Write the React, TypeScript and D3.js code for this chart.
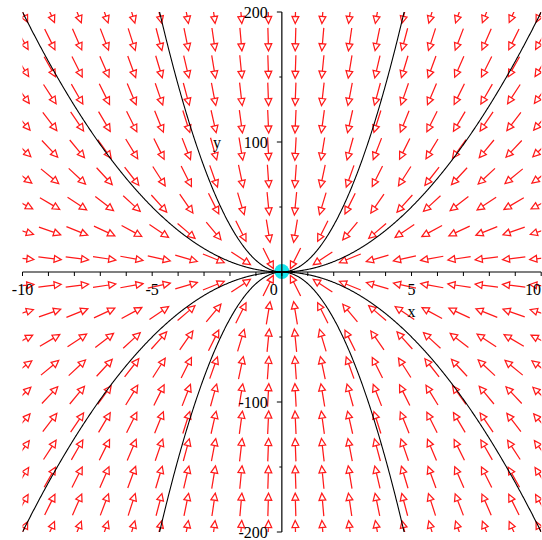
import React from "react";
import * as d3 from "d3";

// Field: dx/dt = -x, dy/dt = -2y ; solution curves y = C x^2
const xDomain = [-10, 10];
const yDomain = [-200, 200];
const gridCount = 20;
const curveCoefs = [2, 9, -2, -9];
const xTickValues = d3.range(-10, 11, 1);
const xTickLabels = [-10, -5, 0, 5, 10];
const yMajorTicks = [-200, -100, 100, 200];
const yMinorTicks = [-150, -50, 50, 150];
const equilibrium = [0, 0];

const W = 542;
const H = 540;

export default function App() {
  const x = d3.scaleLinear().domain(xDomain).range([22.5, 541.2]);
  const y = d3.scaleLinear().domain(yDomain).range([532, 12]);

  const gx = d3.range(gridCount).map((i) => xDomain[0] + (i * (xDomain[1] - xDomain[0])) / (gridCount - 1));
  const gy = d3.range(gridCount).map((i) => yDomain[0] + (i * (yDomain[1] - yDomain[0])) / (gridCount - 1));

  const L = 23;
  const headLen = 7;
  const headHalf = 3.4;
  const arrows: string[] = [];
  gx.forEach((xv) => {
    gy.forEach((yv) => {
      const dx = -xv;
      const dy = -2 * yv;
      const px = x(xv + dx * 1e-3) - x(xv);
      const py = y(yv + dy * 1e-3) - y(yv);
      const m = Math.hypot(px, py);
      if (m === 0) return;
      const ux = px / m;
      const uy = py / m;
      const cx = x(xv);
      const cy = y(yv);
      const tx = cx - (ux * L) / 2;
      const ty = cy - (uy * L) / 2;
      const hx = cx + (ux * L) / 2;
      const hy = cy + (uy * L) / 2;
      const bx = hx - ux * headLen;
      const by = hy - uy * headLen;
      const nx = -uy;
      const ny = ux;
      arrows.push(
        `M${tx},${ty}L${bx},${by}` +
          `M${hx},${hy}L${bx + nx * headHalf},${by + ny * headHalf}L${bx - nx * headHalf},${by - ny * headHalf}Z`
      );
    });
  });

  const xs = d3.range(-10, 10.0001, 0.02);
  const line = d3
    .line<number[]>()
    .x((d) => x(d[0]))
    .y((d) => y(d[1]));

  const x0 = x(0);
  const y0 = y(0);
  const font = "'Liberation Serif', 'Times New Roman', serif";

  return (
    <svg width={W} height={H} style={{ position: "absolute", left: 0, top: 0, background: "#fff" }}>
      <defs>
        <clipPath id="plotClip">
          <rect x={x(-10)} y={y(200)} width={x(10) - x(-10)} height={y(-200) - y(200)} />
        </clipPath>
      </defs>
      <circle cx={x(equilibrium[0])} cy={y(equilibrium[1]) - 0.5} r={7.5} fill="#18e4ec" />
      <g clipPath="url(#plotClip)">
        {arrows.map((d, i) => (
          <path key={i} d={d} fill="none" stroke="#ff1a1a" strokeWidth={1.25} />
        ))}
      </g>
      {/* axes */}
      <line x1={x(-10)} x2={x(10)} y1={y0} y2={y0} stroke="#000" strokeWidth={1.2} />
      <line x1={x0} x2={x0} y1={y(200)} y2={y(-200)} stroke="#000" strokeWidth={1.2} />
      {xTickValues.map((t) => (
        <line key={"xt" + t} x1={x(t)} x2={x(t)} y1={y0} y2={y0 + 4} stroke="#000" strokeWidth={1} />
      ))}
      {yMajorTicks.map((t) => (
        <line key={"yt" + t} x1={x0 - 5} x2={x0} y1={y(t)} y2={y(t)} stroke="#000" strokeWidth={1} />
      ))}
      {yMinorTicks.map((t) => (
        <line key={"ym" + t} x1={x0 - 2.5} x2={x0} y1={y(t)} y2={y(t)} stroke="#000" strokeWidth={1} />
      ))}
      <g clipPath="url(#plotClip)">
        {curveCoefs.map((c) => (
          <path
            key={"c" + c}
            d={line(xs.map((v) => [v, c * v * v])) || ""}
            fill="none"
            stroke="#000"
            strokeWidth={1.1}
          />
        ))}
      </g>
      {xTickLabels.map((t) => (
        <text
          key={"xl" + t}
          x={t === 0 ? x(t) - 8 : t === 10 ? W - 1 : x(t)}
          y={y0 + 23}
          fontFamily={font}
          fontSize={16}
          textAnchor={t === 10 ? "end" : "middle"}
        >
          {t < 0 ? "-" + Math.abs(t) : String(t)}
        </text>
      ))}
      {yMajorTicks.map((t) => (
        <text
          key={"yl" + t}
          x={x0 - 14}
          y={y(t) + 6}
          fontFamily={font}
          fontSize={16}
          textAnchor="end"
        >
          {t < 0 ? "-" + Math.abs(t) : String(t)}
        </text>
      ))}
      <text x={x(5)} y={y0 + 45} fontFamily={font} fontSize={16} textAnchor="middle">
        x
      </text>
      <text x={217} y={y(100) + 6} fontFamily={font} fontSize={16} textAnchor="middle">
        y
      </text>
    </svg>
  );
}
